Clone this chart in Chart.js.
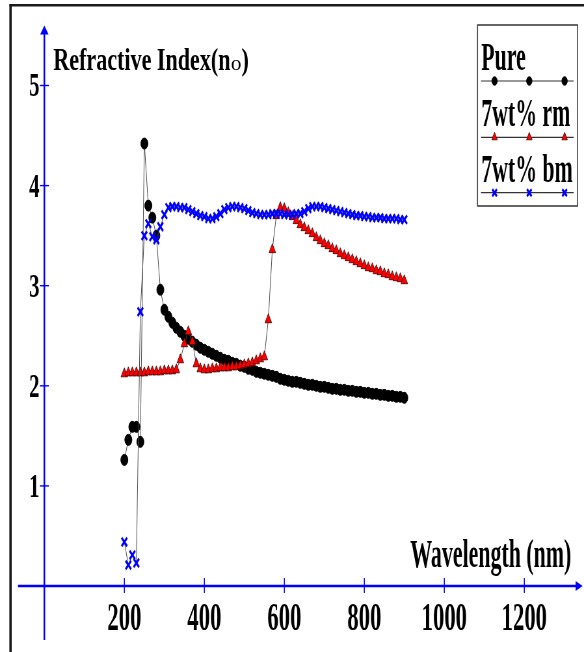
<!DOCTYPE html>
<html>
<head>
<meta charset="utf-8">
<title>Refractive index</title>
<script src="https://cdn.jsdelivr.net/npm/chart.js@4.4.0/dist/chart.umd.min.js"></script>
<style>
  html, body { margin: 0; padding: 0; background: #fff; }
  #chart { display: block; }
</style>
</head>
<body>
<!-- the original figure is squeezed sideways, so the canvas is drawn wide and shown narrow -->
<canvas id="chart" width="898" height="652" style="width:584px;height:652px"></canvas>
<script>
// Wavelength (nm)
const wavelength = [
  200, 210, 220, 230, 240, 250, 260, 270, 280, 290,
  300, 310, 320, 330, 340, 350, 360, 370, 380, 390,
  400, 410, 420, 430, 440, 450, 460, 470, 480, 490,
  500, 510, 520, 530, 540, 550, 560, 570, 580, 590,
  600, 610, 620, 630, 640, 650, 660, 670, 680, 690,
  700, 710, 720, 730, 740, 750, 760, 770, 780, 790,
  800, 810, 820, 830, 840, 850, 860, 870, 880, 890,
  900
];

// Refractive index n_o
const pure = [
  1.26, 1.46, 1.59, 1.59, 1.44, 4.42, 3.80, 3.68, 3.50, 2.96,
  2.76, 2.69, 2.63, 2.58, 2.54, 2.50, 2.47, 2.44, 2.41, 2.38,
  2.36, 2.34, 2.32, 2.30, 2.28, 2.26, 2.25, 2.23, 2.22, 2.20,
  2.19, 2.17, 2.16, 2.14, 2.13, 2.12, 2.11, 2.10, 2.09, 2.07,
  2.06, 2.05, 2.04, 2.04, 2.03, 2.02, 2.01, 2.01, 2.00, 1.99,
  1.99, 1.98, 1.97, 1.97, 1.96, 1.96, 1.95, 1.95, 1.94, 1.94,
  1.93, 1.93, 1.92, 1.92, 1.91, 1.91, 1.90, 1.90, 1.89, 1.89,
  1.88
];
const rm7 = [
  2.12, 2.13, 2.13, 2.13, 2.13, 2.13, 2.14, 2.14, 2.14, 2.14,
  2.15, 2.15, 2.15, 2.16, 2.26, 2.42, 2.54, 2.44, 2.22, 2.17,
  2.16, 2.16, 2.17, 2.17, 2.18, 2.18, 2.18, 2.19, 2.19, 2.20,
  2.21, 2.22, 2.23, 2.25, 2.27, 2.29, 2.66, 3.36, 3.70, 3.78,
  3.77, 3.73, 3.69, 3.65, 3.61, 3.58, 3.55, 3.52, 3.48, 3.45,
  3.42, 3.40, 3.37, 3.35, 3.32, 3.30, 3.28, 3.26, 3.24, 3.22,
  3.20, 3.18, 3.17, 3.15, 3.14, 3.12, 3.11, 3.09, 3.08, 3.07,
  3.05
];
const bm7 = [
  0.44, 0.21, 0.31, 0.23, 2.74, 3.50, 3.62, 3.49, 3.46, 3.59,
  3.71, 3.78, 3.79, 3.79, 3.78, 3.78, 3.76, 3.74, 3.72, 3.70,
  3.69, 3.67, 3.67, 3.69, 3.72, 3.76, 3.78, 3.79, 3.79, 3.78,
  3.77, 3.75, 3.73, 3.72, 3.71, 3.71, 3.71, 3.72, 3.72, 3.72,
  3.71, 3.71, 3.71, 3.72, 3.72, 3.74, 3.77, 3.79, 3.79, 3.79,
  3.78, 3.77, 3.76, 3.75, 3.74, 3.73, 3.72, 3.71, 3.70, 3.70,
  3.69, 3.69, 3.68, 3.68, 3.68, 3.67, 3.67, 3.67, 3.67, 3.66,
  3.66
];

const seriesNames = ['Pure', '7wt% rm', '7wt% bm'];
const xTicks = [200, 400, 600, 800, 1000, 1200];
const yTicks = [1, 2, 3, 4, 5];

const SQ = 0.65;                       // sideways squeeze of the shown canvas
const D = function (px) { return px / SQ; };  // screen x -> canvas x
const FONT = '"Liberation Serif", "Times New Roman", serif';

function pts(ys) {
  return wavelength.map(function (w, i) { return { x: w, y: ys[i] }; });
}

// text drawn with its own sideways scale
function txt(ctx, s, x, y, size, sx, align, weight) {
  ctx.save();
  ctx.font = (weight || 'bold') + ' ' + size + 'px ' + FONT;
  ctx.textAlign = 'left';
  ctx.textBaseline = 'alphabetic';
  const w = ctx.measureText(s).width * sx;
  let x0 = x;
  if (align === 'center') x0 = x - w / 2;
  else if (align === 'right') x0 = x - w;
  ctx.translate(x0, y);
  ctx.scale(sx, 1);
  ctx.fillText(s, 0, 0);
  ctx.restore();
  return w;
}
// scale so the text is `screenW` px wide on screen
function fitSx(ctx, s, size, screenW, weight) {
  ctx.save();
  ctx.font = (weight || 'bold') + ' ' + size + 'px ' + FONT;
  const m = ctx.measureText(s).width;
  ctx.restore();
  return D(screenW) / m;
}

function marker(ctx, style, x, y, r) {
  ctx.beginPath();
  if (style === 'circle') {
    ctx.arc(x, y, r, 0, Math.PI * 2);
    ctx.fill();
    ctx.stroke();
  } else if (style === 'triangle') {
    for (let k = 0; k < 3; k++) {
      const a = k * 2 * Math.PI / 3;
      const px = x + Math.sin(a) * r, py = y - Math.cos(a) * r;
      if (k === 0) ctx.moveTo(px, py); else ctx.lineTo(px, py);
    }
    ctx.closePath();
    ctx.fill();
    ctx.stroke();
  } else {
    const o = Math.cos(Math.PI / 4) * r;
    ctx.moveTo(x - o, y - o); ctx.lineTo(x + o, y + o);
    ctx.moveTo(x + o, y - o); ctx.lineTo(x - o, y + o);
    ctx.stroke();
  }
}

const axesPlugin = {
  id: 'axesPlugin',
  beforeDatasetsDraw: function (chart) {
    const ctx = chart.ctx, xs = chart.scales.x, ys = chart.scales.y;
    const x0 = xs.getPixelForValue(0), y0 = ys.getPixelForValue(0);
    ctx.save();

    // frame (top + left)
    ctx.strokeStyle = '#1a1a1a';
    ctx.lineWidth = 2.6;
    ctx.beginPath(); ctx.moveTo(D(9.5), 5.3); ctx.lineTo(chart.width, 5.3); ctx.stroke();
    ctx.lineWidth = 3.6;
    ctx.beginPath(); ctx.moveTo(D(10.5), 4); ctx.lineTo(D(10.5), chart.height); ctx.stroke();

    ctx.strokeStyle = '#0000ff';
    ctx.fillStyle = '#0000ff';

    // x axis with arrow
    const xa = xs.getPixelForValue(-66), xb = xs.getPixelForValue(1346);
    ctx.lineWidth = 2.5;
    ctx.beginPath(); ctx.moveTo(xa, y0); ctx.lineTo(xb - 8, y0); ctx.stroke();
    ctx.beginPath(); ctx.moveTo(xb, y0); ctx.lineTo(xb - 11, y0 - 5); ctx.lineTo(xb - 11, y0 + 5); ctx.closePath(); ctx.fill();

    // y axis with arrow
    const ya = ys.getPixelForValue(5.6), yb = ys.getPixelForValue(-0.54);
    ctx.lineWidth = 2.6;
    ctx.beginPath(); ctx.moveTo(x0, yb); ctx.lineTo(x0, ya + 6); ctx.stroke();
    ctx.beginPath(); ctx.moveTo(x0, ya); ctx.lineTo(x0 - 6.5, ya + 9); ctx.lineTo(x0 + 6.5, ya + 9); ctx.closePath(); ctx.fill();

    // ticks
    ctx.lineWidth = 1.5;
    xTicks.forEach(function (t) {
      const x = xs.getPixelForValue(t);
      ctx.beginPath(); ctx.moveTo(x, y0 - 8); ctx.lineTo(x, y0 + 7); ctx.stroke();
    });
    ctx.lineWidth = 1.4;
    yTicks.forEach(function (t) {
      const y = ys.getPixelForValue(t);
      ctx.beginPath(); ctx.moveTo(x0 - 7, y); ctx.lineTo(x0 + 7, y); ctx.stroke();
    });
    ctx.restore();
  },
  afterDraw: function (chart) {
    const ctx = chart.ctx, xs = chart.scales.x, ys = chart.scales.y;
    ctx.save();
    ctx.fillStyle = '#000';

    // tick labels
    const xsx = fitSx(ctx, '200', 41, 34);
    xTicks.forEach(function (t) {
      txt(ctx, String(t), xs.getPixelForValue(t), 630, 41, xsx, 'center');
    });
    yTicks.forEach(function (t) {
      txt(ctx, String(t), D(39.5), ys.getPixelForValue(t) + 11, 33, 0.97, 'right');
    });

    // axis titles
    const tsx = fitSx(ctx, 'Refractive Index(n', 32, 177);
    let tx = D(53.3);
    tx += txt(ctx, 'Refractive Index(n', tx, 70, 32, tsx, 'left');
    tx += txt(ctx, 'o', tx + D(0.5), 70, 20, fitSx(ctx, 'o', 20, 10.5, 'normal'), 'left', 'normal') + D(0.5);
    txt(ctx, ')', tx, 70, 32, tsx, 'left');

    txt(ctx, 'Wavelength (nm)', D(571), 567, 39, fitSx(ctx, 'Wavelength (nm)', 39, 161), 'right');

    // legend box
    ctx.strokeStyle = '#333';
    ctx.lineWidth = 1.5;
    ctx.strokeRect(D(477.3), 25, D(577.3) - D(477.3), 181);

    const lsx = fitSx(ctx, '7wt% rm', 41, 89);
    const textY = [70, 126, 182];
    const lineY = [81, 137.3, 192.7];
    const sets = chart.data.datasets;
    seriesNames.forEach(function (name, i) {
      ctx.fillStyle = '#000';
      txt(ctx, name, D(481), textY[i], 41, lsx, 'left');
      ctx.strokeStyle = '#333';
      ctx.lineWidth = 1.2;
      ctx.beginPath(); ctx.moveTo(D(480.7), lineY[i]); ctx.lineTo(D(573.3), lineY[i]); ctx.stroke();
      const ds = sets[i];
      [494.3, 529, 564.3].forEach(function (mx) {
        ctx.fillStyle = ds.pointBackgroundColor;
        ctx.strokeStyle = ds.pointBorderColor;
        ctx.lineWidth = ds.pointBorderWidth;
        marker(ctx, ds.pointStyle, D(mx), lineY[i], i === 0 ? 4.2 : 5);
      });
    });
    ctx.restore();
  }
};

new Chart(document.getElementById('chart'), {
  type: 'line',
  data: {
    datasets: [
      {
        label: seriesNames[0],
        data: pts(pure),
        order: 3,
        borderColor: '#4a4a4a',
        borderWidth: 1,
        pointStyle: 'circle',
        pointRadius: 5.5,
        pointBackgroundColor: '#000000',
        pointBorderColor: '#000000',
        pointBorderWidth: 1
      },
      {
        label: seriesNames[1],
        data: pts(rm7),
        order: 2,
        borderColor: '#4a4a4a',
        borderWidth: 1,
        pointStyle: 'triangle',
        pointRadius: 6,
        pointBackgroundColor: '#ff0000',
        pointBorderColor: '#3a0000',
        pointBorderWidth: 0.8
      },
      {
        label: seriesNames[2],
        data: pts(bm7),
        order: 1,
        borderColor: '#4a4a4a',
        borderWidth: 1,
        pointStyle: 'crossRot',
        pointRadius: 6,
        pointBackgroundColor: '#0000ff',
        pointBorderColor: '#0000ff',
        pointBorderWidth: 2.8
      }
    ]
  },
  options: {
    responsive: false,
    devicePixelRatio: 1,
    animation: false,
    layout: { padding: 0, autoPadding: false },
    elements: { line: { tension: 0 } },
    scales: {
      x: { type: 'linear', display: false, min: -110.9, max: 1349.3 },
      y: { type: 'linear', display: false, min: -0.659, max: 5.854 }
    },
    plugins: {
      legend: { display: false },
      title: { display: false },
      tooltip: { enabled: false }
    }
  },
  plugins: [axesPlugin]
});
</script>
</body>
</html>
